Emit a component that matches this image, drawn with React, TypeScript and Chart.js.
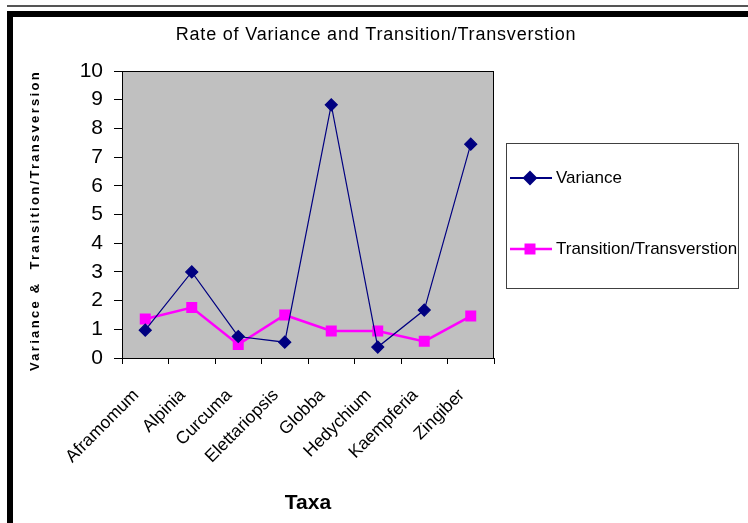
import React, { useEffect, useRef } from "react";
import { Chart, registerables } from "chart.js";
import { drawPoint } from "chart.js/helpers";

Chart.register(...registerables);

const categories = ["Aframomum", "Alpinia", "Curcuma", "Elettariopsis", "Globba", "Hedychium", "Kaempferia", "Zingiber"];
const varianceValues = [0.97, 3.0, 0.75, 0.55, 8.82, 0.38, 1.67, 7.45];
const transitionValues = [1.36, 1.76, 0.47, 1.5, 0.94, 0.94, 0.58, 1.46];
const yTicks = [0, 1, 2, 3, 4, 5, 6, 7, 8, 9, 10];
const chartTitle = "Rate of Variance and Transition/Transverstion";
const yTitle = "Variance &  Transition/Transversion";
const xTitle = "Taxa";

const FONT = "'Liberation Sans', Arial, sans-serif";

const framePlugin = {
  id: "frame",
  beforeDraw(chart: any) {
    const { ctx, chartArea } = chart;
    ctx.save();
    ctx.fillStyle = "#ffffff";
    ctx.fillRect(0, 0, chart.width, chart.height);
    ctx.fillStyle = "#555555";
    ctx.fillRect(7, 5, 741, 2);
    ctx.fillStyle = "#000000";
    ctx.fillRect(7, 11, 741, 6);
    ctx.fillRect(7, 11, 6, chart.height - 11);
    ctx.fillStyle = "#c0c0c0";
    ctx.fillRect(chartArea.left, chartArea.top, chartArea.right - chartArea.left, chartArea.bottom - chartArea.top);
    ctx.restore();
  },
  afterDatasetsDraw(chart: any) {
    const { ctx, chartArea } = chart;
    ctx.save();
    ctx.strokeStyle = "#000000";
    ctx.lineWidth = 1;
    ctx.strokeRect(chartArea.left + 0.5, chartArea.top + 0.5, chartArea.right - chartArea.left - 1, chartArea.bottom - chartArea.top);
    ctx.restore();
  },
  afterDraw(chart: any) {
    const { ctx, chartArea } = chart;
    ctx.save();
    // title
    ctx.fillStyle = "#000000";
    ctx.font = `18px ${FONT}`;
    (ctx as any).letterSpacing = "0.8px";
    ctx.textAlign = "center";
    ctx.textBaseline = "middle";
    ctx.fillText(chartTitle, 376, 35);
    // y title
    ctx.save();
    ctx.translate(35, (chartArea.top + chartArea.bottom) / 2 + 6);
    ctx.rotate(-Math.PI / 2);
    ctx.font = `bold 13px ${FONT}`;
    (ctx as any).letterSpacing = "2.3px";
    ctx.fillText(yTitle, 0, 0);
    ctx.restore();
    (ctx as any).letterSpacing = "0px";
    // legend
    const bx = 506, by = 143, bw = 232, bh = 145;
    ctx.fillStyle = "#ffffff";
    ctx.fillRect(bx, by, bw, bh);
    ctx.strokeStyle = "#404040";
    ctx.lineWidth = 1;
    ctx.strokeRect(bx + 0.5, by + 0.5, bw, bh);
    const rows = [178, 249];
    chart.data.datasets.forEach((ds: any, i: number) => {
      const y = rows[i];
      ctx.strokeStyle = ds.borderColor;
      ctx.lineWidth = Math.max(2, ds.borderWidth);
      ctx.beginPath();
      ctx.moveTo(510, y);
      ctx.lineTo(552, y);
      ctx.stroke();
      ctx.fillStyle = ds.pointBackgroundColor;
      ctx.strokeStyle = ds.pointBorderColor;
      drawPoint(ctx, { pointStyle: ds.pointStyle, radius: ds.pointRadius, borderWidth: 1, rotation: 0 }, 530, y);
      ctx.fillStyle = "#000000";
      ctx.font = `17px ${FONT}`;
      ctx.textAlign = "left";
      ctx.textBaseline = "middle";
      ctx.fillText(ds.label, 556, y);
    });
    ctx.restore();
  },
};

export default function App() {
  const ref = useRef<HTMLCanvasElement | null>(null);
  useEffect(() => {
    if (!ref.current) return;
    const chart = new Chart(ref.current, {
      type: "line",
      data: {
        labels: categories,
        datasets: [
          {
            label: "Variance",
            data: varianceValues,
            borderColor: "#000080",
            backgroundColor: "#000080",
            borderWidth: 1.2,
            pointStyle: "rectRot",
            pointRadius: 6,
            pointBackgroundColor: "#000080",
            pointBorderColor: "#000080",
            tension: 0,
          },
          {
            label: "Transition/Transverstion",
            data: transitionValues,
            borderColor: "#ff00ff",
            backgroundColor: "#ff00ff",
            borderWidth: 2.5,
            pointStyle: "rect",
            pointRadius: 6,
            pointBackgroundColor: "#ff00ff",
            pointBorderColor: "#ff00ff",
            tension: 0,
          },
        ],
      },
      options: {
        animation: false,
        responsive: false,
        devicePixelRatio: 1,
        layout: { padding: { left: 14, right: 254, top: 71, bottom: 0 } },
        plugins: { legend: { display: false }, title: { display: false }, tooltip: { enabled: false } },
        scales: {
          x: {
            type: "category",
            offset: true,
            grid: { offset: true, drawOnChartArea: false, drawTicks: true, tickLength: 6, color: "#000000" },
            border: { color: "#000000", width: 1 },
            ticks: { autoSkip: false, minRotation: 45, maxRotation: 45, color: "#000000", font: { family: FONT, size: 17.5 }, padding: 21, labelOffset: -9 },
            title: { display: true, text: xTitle, color: "#000000", font: { family: FONT, size: 21, weight: "bold" }, padding: { top: 0, bottom: 7 } },
            afterFit: (scale: any) => { scale.height = 165; },
          },
          y: {
            min: 0,
            max: 10,
            afterBuildTicks: (scale: any) => { scale.ticks = yTicks.map((v) => ({ value: v })); },
            grid: { drawOnChartArea: false, drawTicks: true, tickLength: 8, color: "#000000" },
            border: { color: "#000000", width: 1 },
            ticks: { color: "#000000", font: { family: FONT, size: 21 }, padding: 11 },
            afterFit: (scale: any) => { scale.width = 108; },
          },
        },
      },
      plugins: [framePlugin],
    });
    return () => chart.destroy();
  }, []);
  return (
    <div style={{ position: "fixed", left: 0, top: 0, width: 748, height: 523, background: "#fff" }}>
      <canvas ref={ref} width={748} height={523} style={{ display: "block", width: 748, height: 523 }} />
    </div>
  );
}
